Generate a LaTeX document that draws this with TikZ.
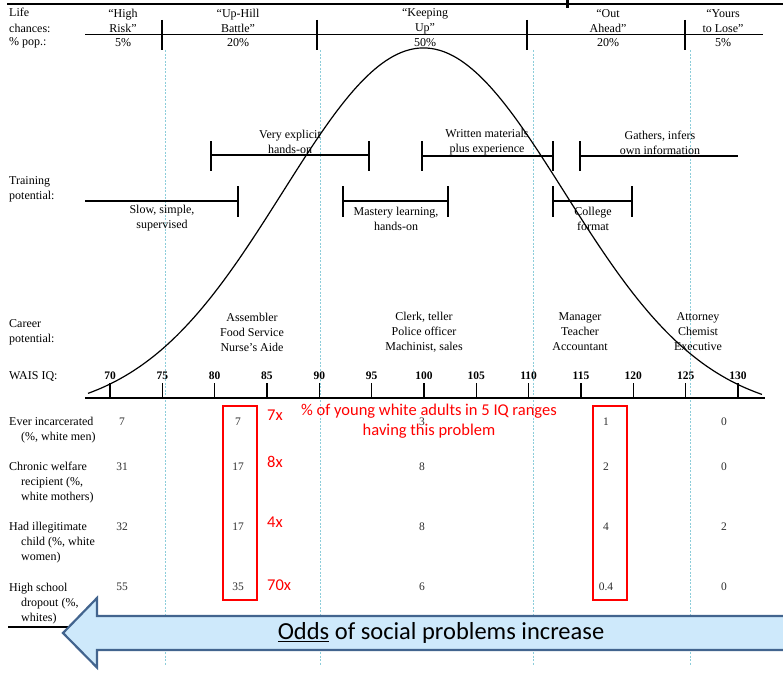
\documentclass[tikz,border=0pt]{standalone}
\usepackage{fontspec}
\setmainfont{Liberation Serif}
\newfontfamily\calibrifont{Carlito}
\definecolor{guidecyan}{RGB}{140,205,218}
\definecolor{arrowfill}{RGB}{206,233,251}
\definecolor{arrowedge}{RGB}{66,100,142}
\definecolor{numgray}{RGB}{45,45,45}
\tikzset{
  txt/.style={font=\fontsize{12}{15}\selectfont, align=center, inner sep=0pt},
  lbl/.style={txt, align=left, anchor=west},
  num/.style={font=\fontsize{11.5}{13}\selectfont, text=numgray, inner sep=0pt},
  iqnum/.style={font=\bfseries\fontsize{11.5}{13}\selectfont, inner sep=0pt},
  rednote/.style={font=\calibrifont\fontsize{16.5}{20}\selectfont, text=red, inner sep=0pt},
  bar/.style={line width=1.3pt},
  guide/.style={draw=guidecyan, line width=0.6pt, dash pattern=on 2pt off 1.5pt},
  redbox/.style={draw=red, line width=2.6pt},
  bigarrow/.style={fill=arrowfill, draw=arrowedge, line width=2.2pt, line join=miter}
}
\begin{document}
\begin{tikzpicture}[x=1pt,y=-1pt]
\useasboundingbox (0,0) rectangle (783,677);
\clip (0,0) rectangle (783,677);

% faint vertical guides between the five IQ ranges
\foreach \gx in {165,320,533,690} \draw[guide] (\gx,50) -- (\gx,665);

% header rules
\draw[line width=2pt] (7,4) -- (783,4);
\fill (565.5,0) rectangle (568.5,8);
\draw[line width=0.8pt] (85,34) -- (763,34);
\foreach \hx in {162,317,527,685} \draw[line width=1.2pt] (\hx,20) -- (\hx,50);

% header labels
\node[lbl] (lifeA) at (9,12) {Life};
\node[lbl] (lifeB) at (9,28) {chances:};
\node[lbl] (lifeC) at (9,43) {\% pop.:};
\node[txt] (hHigh) at (123,21) {“High\\Risk”};
\node[txt] (hUp)   at (238,21) {“Up-Hill\\Battle”};
\node[txt] (hKeep) at (425,21) {“Keeping\\Up”};
\node[txt] (hOut)  at (608,21) {“Out\\Ahead”};
\node[txt] (hYour) at (723,21) {“Yours\\to Lose”};
\node[txt] (pHigh) at (123,43) {5\%};
\node[txt] (pUp)   at (238,43) {20\%};
\node[txt] (pKeep) at (425,43) {50\%};
\node[txt] (pOut)  at (608,43) {20\%};
\node[txt] (pYour) at (723,43) {5\%};

% training potential
\node[lbl] (train) at (9,189) {Training\\potential:};
\draw[bar] (85,201) -- (238,201);  \draw[bar] (238,186) -- (238,217);
\draw[bar] (211,155) -- (369,155); \draw[bar] (211,141) -- (211,171); \draw[bar] (369,141) -- (369,171);
\draw[bar] (343,201) -- (448,201); \draw[bar] (343,186) -- (343,217); \draw[bar] (448,186) -- (448,217);
\draw[bar] (422,156) -- (553,156); \draw[bar] (422,141) -- (422,171); \draw[bar] (553,141) -- (553,171);
\draw[bar] (580,156) -- (738,156); \draw[bar] (580,141) -- (580,171);
\draw[bar] (553,201) -- (632,201); \draw[bar] (553,186) -- (553,217); \draw[bar] (632,186) -- (632,217);
\node[txt] (tVery)  at (290,142) {Very explicit\\hands-on};
\node[txt] (tWrit)  at (487,142.5) {Written materials\\plus experience};
\node[txt] (tGath)  at (660,142.5) {Gathers, infers\\own information};
\node[txt] (tSlow)  at (162,218.5) {Slow, simple,\\supervised};
\node[txt] (tMast)  at (396,218.5) {Mastery learning,\\hands-on};
\node[txt] (tColl)  at (593,218.5) {College\\format};

% career potential
\node[lbl] (career) at (9,332) {Career\\potential:};
\node[txt] (cAsm) at (252,332) {Assembler\\Food Service\\Nurse’s Aide};
\node[txt] (cClk) at (424,332) {Clerk, teller\\Police officer\\Machinist, sales};
\node[txt] (cMgr) at (580,332) {Manager\\Teacher\\Accountant};
\node[txt] (cAtt) at (698,332) {Attorney\\Chemist\\Executive};

% IQ axis
\node[lbl] (wais) at (9,376) {WAIS IQ:};
\draw[line width=1.8pt] (85,398) -- (765,398);
\foreach \i [evaluate=\i as \tx using 110+\i*52.33, evaluate=\i as \iq using int(70+5*\i)] in {0,...,12} {
  \draw[line width=1.2pt] (\tx,383) -- (\tx,398);
  \node[iqnum] (iq\i) at (\tx,376) {\iq};
}

% bell curve
\draw[line width=1.2pt] plot[domain=88:762, samples=160, smooth]
  (\x, {415-367*exp(-0.5*((\x-423.5)/141)^2)});

% table rows
\node[lbl] (rA) at (9,430.5) {Ever incarcerated\\\hspace*{12pt}(\%, white men)};
\node[lbl] (rB) at (9,483) {Chronic welfare\\\hspace*{12pt}recipient (\%,\\\hspace*{12pt}white mothers)};
\node[lbl] (rC) at (9,543) {Had illegitimate\\\hspace*{12pt}child (\%, white\\\hspace*{12pt}women)};
\node[lbl] (rD) at (9,603.5) {High school\\\hspace*{12pt}dropout (\%,\\\hspace*{12pt}whites)};

\foreach \v [count=\c] in {7,7,3,1,0} {
  \pgfmathsetmacro{\cx}{{122,238,422,606,724}[\c-1]}
  \node[num] (nA\c) at (\cx,422) {\v};
}
\foreach \v [count=\c] in {31,17,8,2,0} {
  \pgfmathsetmacro{\cx}{{122,238,422,606,724}[\c-1]}
  \node[num] (nB\c) at (\cx,467) {\v};
}
\foreach \v [count=\c] in {32,17,8,4,2} {
  \pgfmathsetmacro{\cx}{{122,238,422,606,724}[\c-1]}
  \node[num] (nC\c) at (\cx,527) {\v};
}
\foreach \v [count=\c] in {55,35,6,0.4,0} {
  \pgfmathsetmacro{\cx}{{122,238,422,606,724}[\c-1]}
  \node[num] (nD\c) at (\cx,587) {\v};
}
\draw[line width=1.8pt] (8,627) -- (120,627);

% highlighted columns and ratios
\draw[redbox] (223,406) rectangle (257,600);
\draw[redbox] (593,406) rectangle (627,600);
\node[rednote, anchor=west] (xA) at (267,415) {7x};
\node[rednote, anchor=west] (xB) at (267,462) {8x};
\node[rednote, anchor=west] (xC) at (267,522) {4x};
\node[rednote, anchor=west] (xD) at (267,585) {70x};
\node[rednote, align=center] (note) at (429,421) {\% of young white adults in 5 IQ ranges\\having this problem};

% block arrow
\draw[bigarrow] (792,616) -- (97,616) -- (97,598) -- (63,633) -- (97,667.5) -- (97,650) -- (792,650) -- cycle;
\node[font=\calibrifont\fontsize{24.5}{28}\selectfont, inner sep=0pt] (odds) at (441,633)
  {\underline{Odds} of social problems increase};
\end{tikzpicture}
\end{document}
